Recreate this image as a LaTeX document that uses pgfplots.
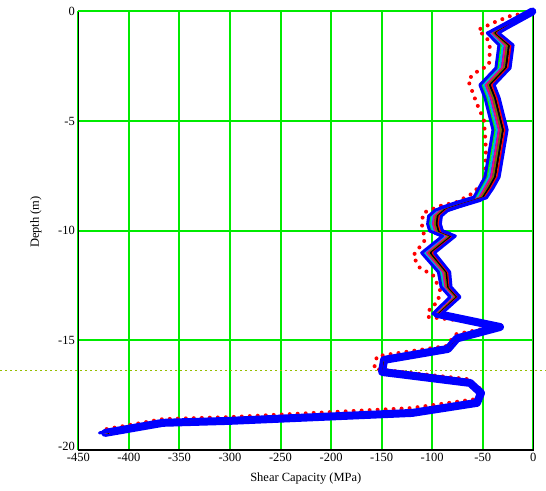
\documentclass[border=0pt]{standalone}
\usepackage{pgfplots}
\pgfplotsset{compat=1.18}
\usepackage{pgfplotstable}
\usepackage{fontspec}
\setmainfont{Liberation Serif}
\definecolor{gridgreen}{RGB}{0,235,0}
\definecolor{dotolive}{RGB}{150,190,0}
\definecolor{lnolive}{RGB}{128,110,0}

\pgfplotstableread{
d b bL g c m o k r bR
0 -1 -1 -1 -1 -1 -1 -1 -1 -1
-0.98 -39.9 -45.5 -43.9 -42.3 -40.7 -39.1 -37.5 -35.9 -34.3
-1.53 -27.0 -34.0 -32.0 -30.0 -28.0 -26.0 -24.0 -22.0 -20.0
-2.58 -30.0 -37.0 -35.0 -33.0 -31.0 -29.0 -27.0 -25.0 -23.0
-3.35 -45.8 -52.8 -50.8 -48.8 -46.8 -44.8 -42.8 -40.8 -38.8
-3.94 -40.8 -47.8 -45.8 -43.8 -41.8 -39.8 -37.8 -35.8 -33.8
-5.40 -32.9 -39.9 -37.9 -35.9 -33.9 -31.9 -29.9 -27.9 -25.9
-7.55 -40.8 -47.8 -45.8 -43.8 -41.8 -39.8 -37.8 -35.8 -33.8
-8.05 -46.8 -53.8 -51.8 -49.8 -47.8 -45.8 -43.8 -41.8 -39.8
-8.50 -52.7 -59.0 -57.2 -55.4 -53.6 -51.8 -50.0 -48.2 -46.4
-8.82 -75.5 -81.8 -80.0 -78.2 -76.4 -74.6 -72.8 -71.0 -69.2
-9.05 -90.3 -96.6 -94.8 -93.0 -91.2 -89.4 -87.6 -85.8 -84.0
-9.33 -97.2 -103.5 -101.7 -99.9 -98.1 -96.3 -94.5 -92.7 -90.9
-9.69 -98.2 -104.5 -102.7 -100.9 -99.1 -97.3 -95.5 -93.7 -91.9
-10.01 -96.2 -102.5 -100.7 -98.9 -97.1 -95.3 -93.5 -91.7 -89.9
-10.24 -83.4 -89.7 -87.9 -86.1 -84.3 -82.5 -80.7 -78.9 -77.1
-11.01 -104.1 -110.4 -108.6 -106.8 -105.0 -103.2 -101.4 -99.6 -97.8
-11.88 -88.3 -93.9 -92.3 -90.7 -89.1 -87.5 -85.9 -84.3 -82.7
-12.56 -86.3 -91.2 -89.8 -88.4 -87.0 -85.6 -84.2 -82.8 -81.4
-13.02 -77.4 -82.3 -80.9 -79.5 -78.1 -76.7 -75.3 -73.9 -72.5
-13.79 -95.2 -99.4 -98.2 -97.0 -95.8 -94.6 -93.4 -92.2 -91.0
-14.39 -32.9 -33.6 -33.4 -33.2 -33.0 -32.8 -32.6 -32.4 -32.2
-14.91 -75.5 -77.6 -77.0 -76.4 -75.8 -75.2 -74.6 -74.0 -73.4
-15.39 -84.4 -86.5 -85.9 -85.3 -84.7 -84.1 -83.5 -82.9 -82.3
-15.89 -147.6 -149.7 -149.1 -148.5 -147.9 -147.3 -146.7 -146.1 -145.5
-16.44 -149.6 -151.0 -150.6 -150.2 -149.8 -149.4 -149.0 -148.6 -148.2
-16.94 -62.6 -63.3 -63.1 -62.9 -62.7 -62.5 -62.3 -62.1 -61.9
-17.40 -51.7 -52.4 -52.2 -52.0 -51.8 -51.6 -51.4 -51.2 -51.0
-17.85 -55.7 -56.4 -56.2 -56.0 -55.8 -55.6 -55.4 -55.2 -55.0
-18.31 -120.0 -120.7 -120.5 -120.3 -120.1 -119.9 -119.7 -119.5 -119.3
-18.67 -300.0 -300.7 -300.5 -300.3 -300.1 -299.9 -299.7 -299.5 -299.3
-18.76 -366.3 -367.7 -367.3 -366.9 -366.5 -366.1 -365.7 -365.3 -364.9
-19.22 -423.5 -429.1 -427.5 -425.9 -424.3 -422.7 -421.1 -419.5 -417.9
}\band

\pgfplotstableread{
x d
0 0
-23.0 -0.21
-37.9 -0.48
-54.7 -0.84
-45.8 -1.21
-42.8 -1.66
-43.8 -2.44
-57.7 -2.80
-64.6 -3.12
-61.6 -3.49
-55.7 -4.22
-48.8 -4.95
-46.8 -6.32
-47.8 -7.68
-59.6 -8.28
-75.5 -8.69
-92.3 -8.87
-109.1 -9.19
-110.1 -9.74
-107.1 -10.42
-119.0 -11.15
-112.1 -11.70
-99.2 -12.02
-92.3 -12.70
-94.3 -13.25
-102.2 -13.52
-104.1 -13.93
-31.0 -14.31
-76.5 -14.72
-86.3 -15.26
-154.6 -15.72
-157.6 -16.30
-64.6 -16.77
-51.7 -17.23
-56.7 -17.68
-121.0 -18.09
-300.0 -18.50
-366.3 -18.59
-428.6 -19.10
}\reddot

\begin{document}
\begin{tikzpicture}
\begin{axis}[
  scale only axis,
  width=455pt, height=438.5pt,
  xmin=-450, xmax=0, ymin=-20, ymax=0,
  xtick={-450,-400,-350,-300,-250,-200,-150,-100,-50,0},
  ytick={-15,-10,-5,0},
  extra y ticks={-20},
  extra y tick style={grid=none, yticklabel style={yshift=4pt}},
  grid=major,
  major grid style={gridgreen, line width=2pt},
  major tick length=0pt,
  axis line style={black, line width=1.5pt},
  clip=false,
  /pgf/number format/assume math mode=true,
  ticklabel style={font=\fontsize{12.5}{14}\selectfont},
  label style={font=\fontsize{12.5}{14}\selectfont},
  xlabel={Shear Capacity (MPa)},
  ylabel={Depth (m)},
  xlabel style={at={(axis description cs:0.5,-0.064)}, anchor=center},
  ylabel style={at={(axis description cs:-0.093,0.52)}, anchor=center},
]
\addplot[gridgreen, line width=2pt] coordinates {(-450,0) (0,0)};
\addplot[dotolive, line width=1.5pt, dash pattern=on 1.5pt off 3.5pt] coordinates {(-527.4,-16.38) (12.6,-16.38)};
\addplot[red, line width=4pt, line cap=round, dash pattern=on 0pt off 8pt] table[x=x,y=d] {\reddot};
\addplot[blue, line width=8pt, line join=round, line cap=round] table[x=b,y=d] {\band};
\addplot[green, line width=2pt, line join=round] table[x=g,y=d] {\band};
\addplot[cyan, line width=2pt, line join=round] table[x=c,y=d] {\band};
\addplot[magenta, line width=2pt, line join=round] table[x=m,y=d] {\band};
\addplot[lnolive, line width=2pt, line join=round] table[x=o,y=d] {\band};
\addplot[black, line width=2pt, line join=round] table[x=k,y=d] {\band};
\addplot[red, line width=2pt, line join=round] table[x=r,y=d] {\band};
\addplot[blue, line width=3pt, line join=round, line cap=round] table[x=bL,y=d] {\band};
\addplot[blue, line width=3pt, line join=round, line cap=round] table[x=bR,y=d] {\band};
\end{axis}
\pgfresetboundingbox
\path[use as bounding box] ([shift={(-78.3pt,-40pt)}]current axis.south west) rectangle ([shift={(12.7pt,11.5pt)}]current axis.north east);
\end{tikzpicture}
\end{document}
